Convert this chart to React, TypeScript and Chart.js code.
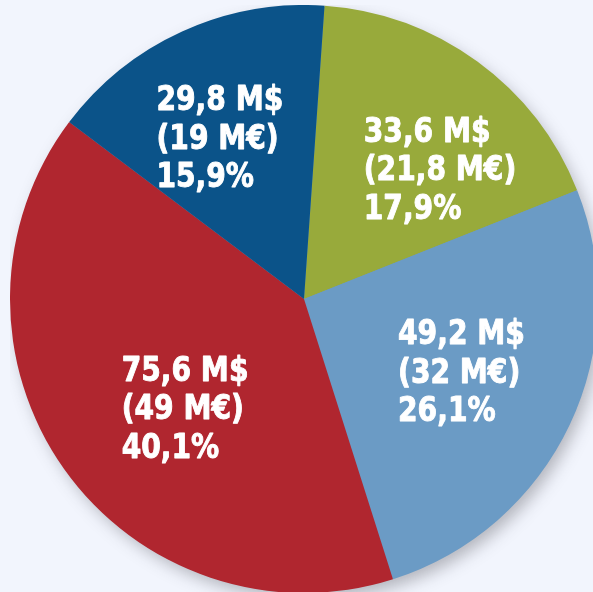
import React, { useEffect, useRef } from "react";
import { Chart, registerables } from "chart.js";

Chart.register(...registerables);

const categories = ["Green", "Light blue", "Red", "Dark blue"];
const valuesUSD = [33.6, 49.2, 75.6, 29.8];
const valuesEUR = ["21,8", "32", "49", "19"];
const percents = ["17,9", "26,1", "40,1", "15,9"];
const colors = ["#98aa3b", "#6b9bc5", "#b0262f", "#0b5389"];

// label placement nudges (px) relative to each slice's mid-angle anchor
const LABEL_NUDGE = [
  [32, 11],
  [-2, -4],
  [25, 6],
  [-11, -2],
];

const fmt = (v: number) => v.toFixed(1).replace(".", ",");

const FONT = 'bold 34px "DejaVu Sans Condensed", "DejaVu Sans", sans-serif';
const SCALE_X = 0.92;

const shadowPlugin = {
  id: "pieShadow",
  beforeDatasetsDraw(chart: any) {
    const meta = chart.getDatasetMeta(0);
    if (!meta.data.length) return;
    const arc = meta.data[0];
    const { x, y, outerRadius } = arc.getProps(["x", "y", "outerRadius"], true);
    const ctx = chart.ctx;
    ctx.save();
    ctx.shadowColor = "rgba(60,60,70,0.35)";
    ctx.shadowBlur = 16;
    ctx.shadowOffsetX = 5;
    ctx.shadowOffsetY = 7;
    ctx.fillStyle = "#6b9bc5";
    ctx.beginPath();
    ctx.arc(x, y, outerRadius - 1, 0, Math.PI * 2);
    ctx.fill();
    ctx.restore();
  },
};

const labelPlugin = {
  id: "sliceLabels",
  afterDatasetsDraw(chart: any) {
    const meta = chart.getDatasetMeta(0);
    const ctx = chart.ctx;
    ctx.save();
    ctx.font = FONT;
    ctx.fillStyle = "#ffffff";
    ctx.strokeStyle = "#ffffff";
    ctx.lineWidth = 0.9;
    ctx.lineJoin = "round";
    ctx.textAlign = "left";
    ctx.textBaseline = "alphabetic";
    const lineH = 38.5;
    const capH = 25;
    meta.data.forEach((arc: any, i: number) => {
      const { x, y, startAngle, endAngle, outerRadius } = arc.getProps(
        ["x", "y", "startAngle", "endAngle", "outerRadius"],
        true
      );
      const mid = (startAngle + endAngle) / 2;
      const cx = x + Math.cos(mid) * outerRadius * 0.6 + LABEL_NUDGE[i][0];
      const cy = y + Math.sin(mid) * outerRadius * 0.6 + LABEL_NUDGE[i][1];
      const lines = [
        `${fmt(valuesUSD[i])} M$`,
        `(${valuesEUR[i]} M€)`,
        `${percents[i]}%`,
      ];
      const w = Math.max(...lines.map((l) => ctx.measureText(l).width)) * SCALE_X;
      const left = cx - w / 2;
      const firstBase = cy - (2 * lineH + capH) / 2 + capH;
      lines.forEach((l, k) => {
        ctx.save();
        ctx.translate(left, firstBase + k * lineH);
        ctx.scale(SCALE_X, 1);
        ctx.fillText(l, 0, 0);
        ctx.strokeText(l, 0, 0);
        ctx.restore();
      });
    });
    ctx.restore();
  },
};

export default function App() {
  const ref = useRef<HTMLCanvasElement>(null);
  useEffect(() => {
    if (!ref.current) return;
    const chart = new Chart(ref.current, {
      type: "pie",
      data: {
        labels: categories,
        datasets: [
          {
            data: valuesUSD,
            backgroundColor: colors,
            borderWidth: 0,
            hoverOffset: 0,
          },
        ],
      },
      options: {
        responsive: false,
        animation: false,
        rotation: 4,
        layout: { padding: 0 },
        plugins: {
          legend: { display: false },
          tooltip: { enabled: false },
        },
        events: [],
      },
      plugins: [shadowPlugin, labelPlugin],
    });
    return () => chart.destroy();
  }, []);
  return (
    <div
      style={{
        position: "fixed",
        left: 0,
        top: 0,
        width: 593,
        height: 592,
        overflow: "hidden",
        background: "#f2f5fd",
      }}
    >
      <canvas
        ref={ref}
        width={588}
        height={588}
        style={{ position: "absolute", left: 10, top: 5, width: 588, height: 588 }}
      />
    </div>
  );
}
